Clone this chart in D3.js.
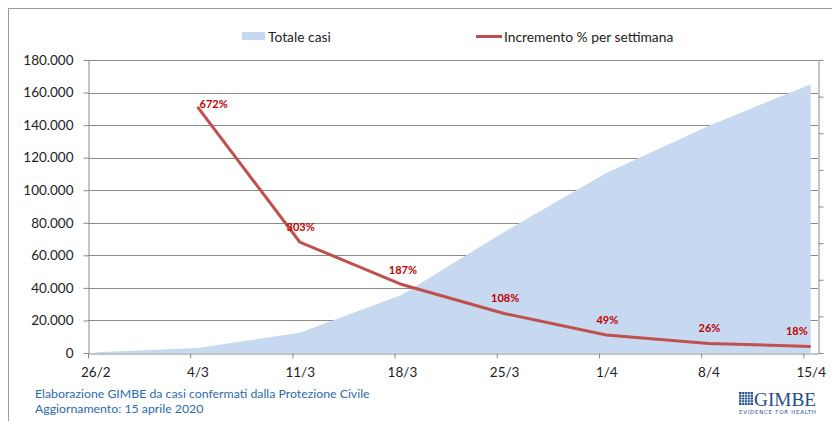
<!DOCTYPE html>
<html>
<head>
<meta charset="utf-8">
<script src="https://cdn.jsdelivr.net/npm/d3@7"></script>
<style>
  body { margin: 0; background: #fff; }
  svg { display: block; font-family: Lato, "Open Sans", sans-serif; }
</style>
</head>
<body>
<script>
// weekly categories (daily axis, one label every 7 days)
var weeks = ["26/2", "4/3", "11/3", "18/3", "25/3", "1/4", "8/4", "15/4"];
// total confirmed cases at each weekly date
var totals = [453, 3089, 12462, 35713, 74386, 110574, 139422, 165155];
// weekly % increase (no value for the first week)
var increments = [null, 672, 303, 187, 108, 49, 26, 18];
var yTicks = [0, 20000, 40000, 60000, 80000, 100000, 120000, 140000, 160000, 180000];
var y2Ticks = [0, 100, 200, 300, 400, 500, 600, 700, 800];
var nDays = 50;

var width = 832, height = 421;
var plot = {left: 88, right: 818, top: 60, bottom: 353};

var grey = "#8a8a8a",
  areaColor = "#c6d9f1",
  lineColor = "#c0504d",
  labelColor = "#c00000",
  footColor = "#2a6cae",
  logoColor = "#1f4e8c";

var it = d3.formatLocale({decimal: ",", thousands: ".", grouping: [3], currency: ["", ""]});
var fmt = it.format(",d");

var svg = d3.select("body").append("svg")
  .attr("width", width)
  .attr("height", height);

// outer frame (runs off the right and bottom edges)
svg.append("rect")
  .attr("x", 8.5).attr("y", 8.5)
  .attr("width", 860).attr("height", 460)
  .attr("fill", "none")
  .attr("stroke", "#9a9a9a");

// day axis: categories sit in the middle of each day slot
var xDay = d3.scaleLinear().domain([0, nDays]).range([plot.left, plot.right]);
var half = (xDay(1) - xDay(0)) / 2;
var xPos = function(i) { return xDay(i * 7) + half; };

var y = d3.scaleLinear().domain([0, 180000]).range([plot.bottom, plot.top]);
var y2 = d3.scaleLinear().domain([0, 800]).range([plot.bottom, plot.top]);

// gridlines
svg.append("g")
  .selectAll("line")
  .data(yTicks.slice(1))
  .enter().append("line")
  .attr("x1", plot.left).attr("x2", plot.right)
  .attr("y1", d => Math.round(y(d)) + 0.5)
  .attr("y2", d => Math.round(y(d)) + 0.5)
  .attr("stroke", grey)
  .attr("stroke-width", 1);

// area of total cases
var area = d3.area()
  .x((d, i) => xPos(i))
  .y0(y(0))
  .y1(d => y(d));

svg.append("path")
  .datum(totals)
  .attr("d", area)
  .attr("fill", areaColor);

// left axis
var yAxis = svg.append("g")
  .attr("transform", "translate(" + (plot.left + 0.5) + ",0)")
  .call(d3.axisLeft(y).tickValues(yTicks).tickFormat(fmt).tickSizeInner(5).tickSizeOuter(0).tickPadding(10));
yAxis.selectAll("text").attr("font-size", 13.5).attr("font-family", "Lato").attr("fill", "#222");

// right (secondary) axis, ticks only
var y2Axis = svg.append("g")
  .attr("transform", "translate(" + (plot.right + 0.5) + ",0)")
  .call(d3.axisRight(y2).tickValues(y2Ticks).tickFormat("").tickSizeInner(5).tickSizeOuter(0));

// bottom axis
var xAxis = svg.append("g")
  .attr("transform", "translate(0," + (plot.bottom + 0.5) + ")")
  .call(d3.axisBottom(xDay)
    .tickValues(d3.range(0, nDays, 7))
    .tickFormat(d => weeks[d / 7])
    .tickSizeInner(5).tickSizeOuter(0).tickPadding(9));
xAxis.selectAll("text")
  .attr("x", half)
  .attr("font-size", 13.5).attr("font-family", "Lato").attr("fill", "#222");

[yAxis, y2Axis, xAxis].forEach(function(ax) {
  ax.selectAll("path, line").attr("stroke", grey);
});

// weekly increment line
var pts = increments.map((v, i) => ({i: i, v: v})).filter(d => d.v !== null);

svg.append("path")
  .datum(pts)
  .attr("d", d3.line().x(d => xPos(d.i)).y(d => y2(d.v)))
  .attr("fill", "none")
  .attr("stroke", lineColor)
  .attr("stroke-width", 3);

svg.append("g")
  .selectAll("text")
  .data(pts)
  .enter().append("text")
  .attr("x", (d, k) => k === 0 ? xPos(d.i) + 2 : (k === pts.length - 1 ? xPos(d.i) - 3 : xPos(d.i) + 1))
  .attr("y", (d, k) => k === 0 ? y2(d.v) + 1 : y2(d.v) - 11)
  .attr("text-anchor", (d, k) => k === 0 ? "start" : (k === pts.length - 1 ? "end" : "middle"))
  .attr("font-size", 11)
  .attr("font-weight", "bold")
  .attr("fill", labelColor)
  .text(d => d.v + "%");

// legend
var legend = svg.append("g").attr("font-size", 13.8).attr("fill", "#222");
legend.append("rect")
  .attr("x", 242).attr("y", 32).attr("width", 23).attr("height", 8)
  .attr("fill", areaColor);
legend.append("text")
  .attr("x", 268).attr("y", 41.5)
  .text("Totale casi");
legend.append("line")
  .attr("x1", 476).attr("x2", 502).attr("y1", 36.5).attr("y2", 36.5)
  .attr("stroke", lineColor).attr("stroke-width", 3);
legend.append("text")
  .attr("x", 504).attr("y", 41.5)
  .text("Incremento % per settimana");

// footer
var foot = svg.append("g").attr("font-size", 12.3).attr("fill", footColor);
foot.append("text").attr("x", 35).attr("y", 397.5)
  .text("Elaborazione GIMBE da casi confermati dalla Protezione Civile");
foot.append("text").attr("x", 35).attr("y", 413)
  .text("Aggiornamento: 15 aprile 2020");

// GIMBE logo
var logo = svg.append("g").attr("fill", logoColor);
logo.append("rect").attr("x", 739).attr("y", 392).attr("width", 14).attr("height", 13);
logo.selectAll("line.v")
  .data(d3.range(1, 5))
  .enter().append("line")
  .attr("x1", d => 739 + d * 2.8).attr("x2", d => 739 + d * 2.8)
  .attr("y1", 392).attr("y2", 405)
  .attr("stroke", "#fff").attr("stroke-width", 0.7);
logo.selectAll("line.h")
  .data(d3.range(1, 5))
  .enter().append("line")
  .attr("x1", 739).attr("x2", 753)
  .attr("y1", d => 392 + d * 2.6).attr("y2", d => 392 + d * 2.6)
  .attr("stroke", "#fff").attr("stroke-width", 0.7);
logo.append("text")
  .attr("x", 754).attr("y", 405.5)
  .attr("font-family", "Liberation Serif, serif")
  .attr("font-size", 19)
  .attr("textLength", 62).attr("lengthAdjust", "spacingAndGlyphs")
  .text("GIMBE");
logo.append("text")
  .attr("x", 739).attr("y", 414)
  .attr("font-family", "DejaVu Sans, sans-serif")
  .attr("font-size", 5.5)
  .attr("textLength", 77).attr("lengthAdjust", "spacing")
  .text("EVIDENCE FOR HEALTH");
</script>
</body>
</html>
